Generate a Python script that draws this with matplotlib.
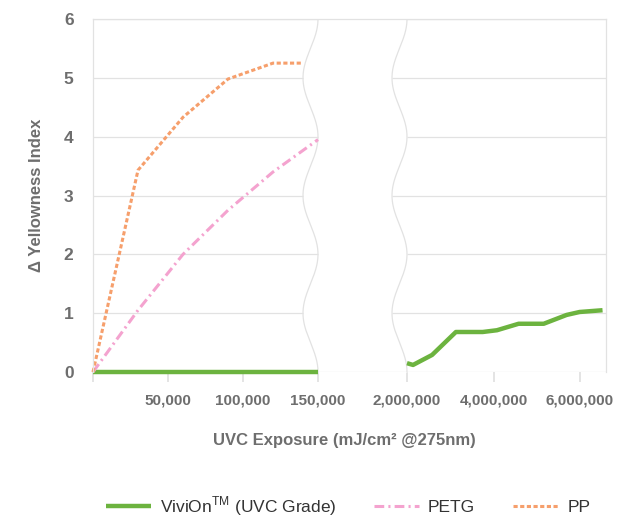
import numpy as np
import matplotlib
matplotlib.use('Agg')
import matplotlib.pyplot as plt

# DATA
vivion_low_x = [0, 150000]
vivion_low_y = [0.0, 0.0]
vivion_high_x = [2000000, 2140000, 2580000, 3130000, 3750000, 4080000, 4580000, 5160000, 5690000, 5990000, 6520000]
vivion_high_y = [0.15, 0.12, 0.29, 0.68, 0.68, 0.71, 0.82, 0.82, 0.97, 1.02, 1.05]
petg_x = [0, 30000, 60000, 90000, 120000, 150000]
petg_y = [0.0, 1.05, 2.0, 2.75, 3.4, 3.95]
pp_x = [0, 30000, 60000, 90000, 120000, 140000]
pp_y = [0.0, 3.43, 4.33, 4.98, 5.25, 5.25]
xtick_vals = [0, 50000, 100000, 150000, 2000000, 4000000, 6000000]
xtick_labels = ['', '50,000', '100,000', '150,000', '2,000,000', '4,000,000', '6,000,000']
ytick_vals = [0, 1, 2, 3, 4, 5, 6]

GREEN = '#6cb33f'
PINK = '#f4a3cf'
ORANGE = '#f69f6c'
GRID = '#e2e2e2'
TXT = '#6e6e6e'

plt.rcParams['font.family'] = ['Liberation Sans', 'DejaVu Sans']
plt.rcParams['mathtext.fontset'] = 'custom'
plt.rcParams['mathtext.rm'] = 'Liberation Sans'
plt.rcParams['lines.scale_dashes'] = False

# broken x axis: low range, squeezed gap, high range
BRK_LO, BRK_HI, XMAX = 150000, 2000000, 6600000
U1, U2, U3 = 225.0, 314.0, 513.0


def fwd(x):
	x = np.asarray(x, float)
	return np.where(x <= BRK_LO, x / BRK_LO * U1,
		np.where(x < BRK_HI, U1 + (x - BRK_LO) / (BRK_HI - BRK_LO) * (U2 - U1),
			U2 + (x - BRK_HI) / (XMAX - BRK_HI) * (U3 - U2)))


def inv(u):
	u = np.asarray(u, float)
	return np.where(u <= U1, u / U1 * BRK_LO,
		np.where(u < U2, BRK_LO + (u - U1) / (U2 - U1) * (BRK_HI - BRK_LO),
			BRK_HI + (u - U2) / (U3 - U2) * (XMAX - BRK_HI)))


fig = plt.figure(figsize=(6.27, 5.18), dpi=100)
ax = fig.add_axes([93/627, 1 - 372/518, 513/627, 353/518])
ax.set_xscale('function', functions=(fwd, inv))
ax.set_xlim(0, XMAX)
ax.set_ylim(0, 6)

# GRID
for v in ytick_vals[1:]:
	ax.axhline(v, color=GRID, lw=0.9, zorder=1)
ax.axhline(0, color=GRID, lw=0.9, zorder=2.7)

# LINES
params = {'zorder': 3, 'clip_on': False}
ax.plot(vivion_low_x, vivion_low_y, color=GREEN, lw=3.2, solid_capstyle='butt',
	label=r'ViviOn$^{\rm TM}$ (UVC Grade)', **params)
ax.plot(vivion_high_x, vivion_high_y, color=GREEN, lw=3.2, solid_capstyle='butt', **params)
ax.plot(petg_x, petg_y, color=PINK, lw=2.2, dashes=(7, 3, 1.5, 3), label='PETG', **params)
ax.plot(pp_x, pp_y, color=ORANGE, lw=2.2, dashes=(3, 1.8), label='PP', **params)

# BREAK (wavy white band)
v = np.linspace(0, 6, 400)
wl = inv(U1 - 7.5 + 7.5 * np.cos(np.pi * v))
wr = inv(U2 - 7.5 + 7.5 * np.cos(np.pi * v))
ax.fill_betweenx(v, wl, wr, color='white', lw=0, zorder=2.5)
ax.plot(wl, v, color=GRID, lw=0.9, zorder=2.8)
ax.plot(wr, v, color=GRID, lw=0.9, zorder=2.8)

# AXES
for s in ['left', 'right', 'top']:
	ax.spines[s].set_color(GRID)
	ax.spines[s].set_linewidth(0.9)
	ax.spines[s].set_zorder(4)
ax.spines['bottom'].set_visible(False)
ax.set_xticks(xtick_vals)
ax.set_xticklabels(xtick_labels)
ax.minorticks_off()
ax.tick_params(axis='x', length=7.5, width=1.1, color='#dddddd', pad=8,
	labelsize=11, labelcolor=TXT)
ax.set_yticks(ytick_vals)
ax.tick_params(axis='y', length=0, pad=14, labelsize=12.5, labelcolor=TXT)
for t in ax.get_xticklabels() + ax.get_yticklabels():
	t.set_fontweight('bold')

ax.set_ylabel('\u0394 Yellowness Index', fontsize=12, fontweight='bold', color=TXT)
ax.yaxis.set_label_coords(-0.095, 0.5)
ax.set_xlabel('UVC Exposure (mJ/cm\u00b2 @275nm)', fontsize=12, fontweight='bold', color=TXT)
ax.xaxis.set_label_coords(0.49, -0.172)

fig.legend(loc='center', bbox_to_anchor=(0.555, 0.023), ncol=3, frameon=False,
	fontsize=12.5, handlelength=2.6, handletextpad=0.5, columnspacing=2.2,
	labelcolor='#333333')

plt.savefig('out.png', dpi=100)
